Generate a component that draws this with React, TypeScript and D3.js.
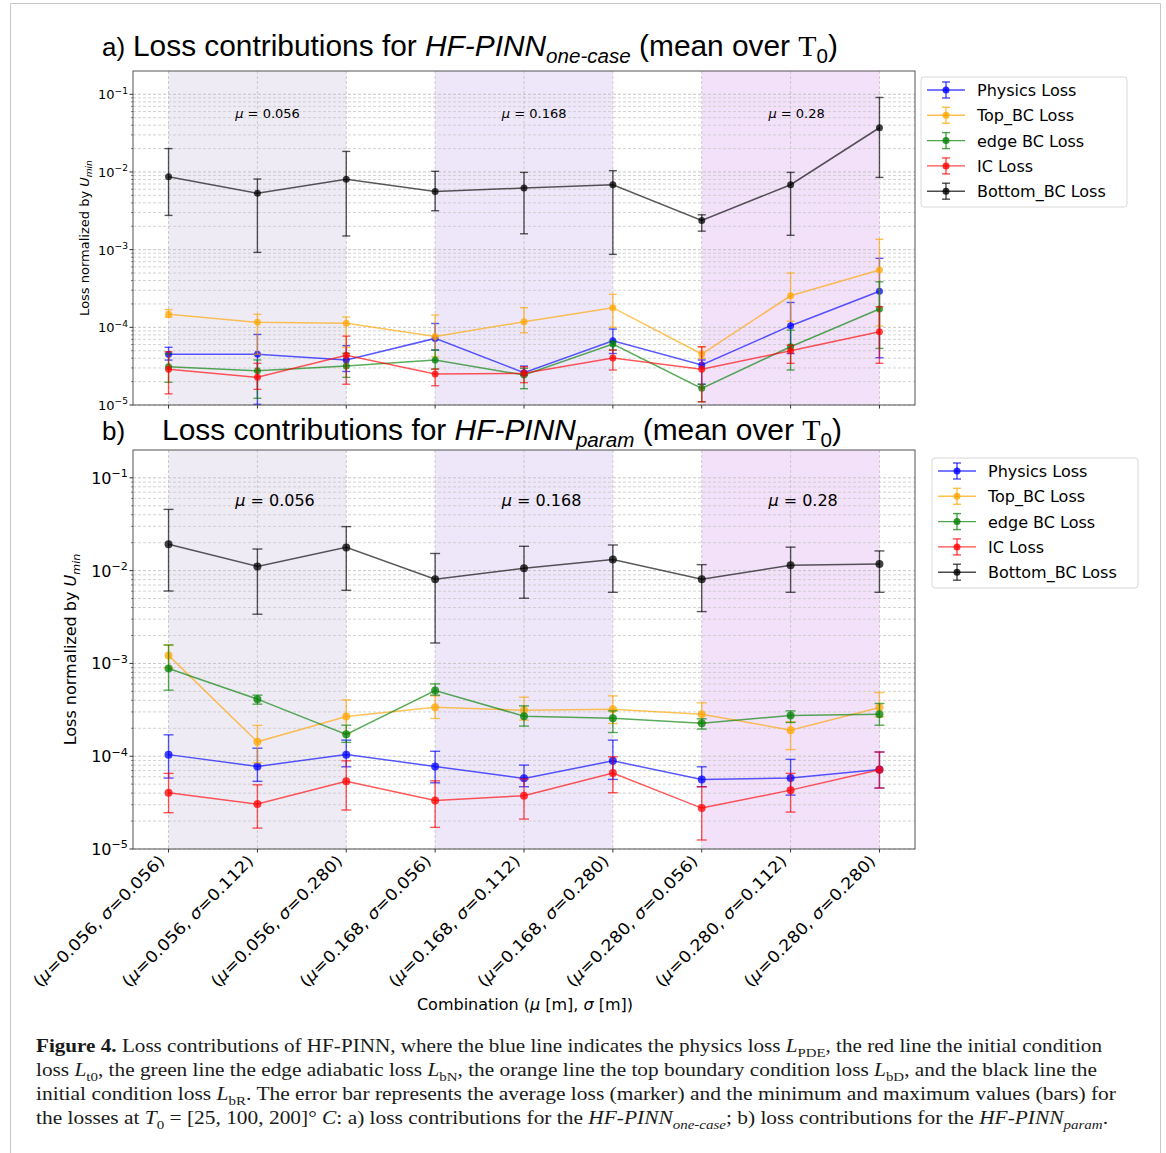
import React from 'react';
import * as d3 from 'd3';

// ---------- data ----------
const muLabels = ['0.056', '0.056', '0.056', '0.168', '0.168', '0.168', '0.280', '0.280', '0.280'];
const sigmaLabels = ['0.056', '0.112', '0.280', '0.056', '0.112', '0.280', '0.056', '0.112', '0.280'];
const groupMu = ['0.056', '0.168', '0.28'];
const groupStart = [0, 3, 6];
const groupEnd = [2, 5, 8];
const groupColors = ['#efebf5', '#eee7f9', '#f2e1f9'];

const seriesNames = ['Physics Loss', 'Top_BC Loss', 'edge BC Loss', 'IC Loss', 'Bottom_BC Loss'];
const seriesColors = ['#0000ff', '#ffa500', '#008000', '#ff0000', '#000000'];

// panel a) HF-PINN one-case
const physicsA = [4.49e-5, 4.49e-5, 3.79e-5, 7.2e-5, 2.61e-5, 6.7e-5, 3.27e-5, 1.05e-4, 2.91e-4];
const physicsALo = [3.79e-5, 1.02e-5, 2.7e-5, 5.1e-5, 2.4e-5, 4.6e-5, 1.85e-5, 4.6e-5, 4.06e-5];
const physicsAHi = [5.53e-5, 8.1e-5, 5.8e-5, 1.12e-4, 3.17e-5, 9.5e-5, 3.8e-5, 2.09e-4, 7.73e-4];

const topBCA = [1.47e-4, 1.16e-4, 1.13e-4, 7.6e-5, 1.18e-4, 1.79e-4, 4.53e-5, 2.55e-4, 5.46e-4];
const topBCALo = [1.35e-4, 4.5e-5, 5.5e-5, 4.2e-5, 8.5e-5, 1.0e-4, 4.0e-5, 1.2e-4, 1.04e-4];
const topBCAHi = [1.69e-4, 1.47e-4, 1.36e-4, 1.44e-4, 1.79e-4, 2.66e-4, 5.6e-5, 5.0e-4, 1.36e-3];

const edgeBCA = [3.11e-5, 2.76e-5, 3.17e-5, 3.79e-5, 2.43e-5, 6.1e-5, 1.64e-5, 5.62e-5, 1.72e-4];
const edgeBCALo = [1.96e-5, 1.22e-5, 2.27e-5, 2.9e-5, 1.62e-5, 5.1e-5, 1.1e-5, 2.82e-5, 5.35e-5];
const edgeBCAHi = [4.6e-5, 3.8e-5, 4.63e-5, 5.1e-5, 2.97e-5, 6.6e-5, 1.85e-5, 9.2e-5, 3.86e-4];

const icA = [2.88e-5, 2.27e-5, 4.36e-5, 2.5e-5, 2.56e-5, 4.02e-5, 2.88e-5, 5.0e-5, 8.78e-5];
const icALo = [1.39e-5, 1.59e-5, 1.85e-5, 1.77e-5, 1.94e-5, 2.82e-5, 1.1e-5, 3.44e-5, 3.44e-5];
const icAHi = [4.85e-5, 3.44e-5, 7.7e-5, 2.9e-5, 3.1e-5, 5.1e-5, 5.62e-5, 5.9e-5, 1.84e-4];

const bottomBCA = [8.67e-3, 5.31e-3, 8.04e-3, 5.62e-3, 6.21e-3, 6.85e-3, 2.38e-3, 6.85e-3, 3.71e-2];
const bottomBCALo = [2.76e-3, 9.23e-4, 1.5e-3, 3.17e-3, 1.6e-3, 8.69e-4, 1.73e-3, 1.53e-3, 8.51e-3];
const bottomBCAHi = [2.0e-2, 8.11e-3, 1.84e-2, 1.02e-2, 9.88e-3, 1.04e-2, 2.81e-3, 9.88e-3, 9.1e-2];

// panel b) HF-PINN param
const physicsB = [1.04e-4, 7.76e-5, 1.04e-4, 7.76e-5, 5.77e-5, 8.92e-5, 5.62e-5, 5.81e-5, 7.21e-5];
const physicsBLo = [5.81e-5, 5.36e-5, 7.69e-5, 5.17e-5, 4.69e-5, 5.62e-5, 4.69e-5, 3.81e-5, 4.54e-5];
const physicsBHi = [1.7e-4, 1.22e-4, 1.49e-4, 1.13e-4, 8.02e-5, 1.49e-4, 7.69e-5, 9.25e-5, 1.11e-4];

const topBCB = [1.22e-3, 1.43e-4, 2.68e-4, 3.38e-4, 3.13e-4, 3.21e-4, 2.84e-4, 1.91e-4, 3.35e-4];
const topBCBLo = [9.0e-4, 8.5e-5, 1.76e-4, 2.55e-4, 2.45e-4, 2.25e-4, 2.29e-4, 1.18e-4, 2.66e-4];
const topBCBHi = [1.58e-3, 2.15e-4, 4.05e-4, 4.47e-4, 4.33e-4, 4.47e-4, 3.76e-4, 2.35e-4, 4.86e-4];

const edgeBCB = [8.81e-4, 4.12e-4, 1.72e-4, 5.11e-4, 2.7e-4, 2.57e-4, 2.27e-4, 2.75e-4, 2.84e-4];
const edgeBCBLo = [5.15e-4, 3.64e-4, 1.41e-4, 4.55e-4, 2.11e-4, 1.8e-4, 1.96e-4, 2.31e-4, 2.16e-4];
const edgeBCBHi = [1.58e-3, 4.55e-4, 2.16e-4, 6.02e-4, 3.49e-4, 3.08e-4, 2.53e-4, 3.08e-4, 3.7e-4];

const icB = [4.04e-5, 3.05e-5, 5.36e-5, 3.34e-5, 3.75e-5, 6.58e-5, 2.76e-5, 4.31e-5, 7.14e-5];
const icBLo = [2.46e-5, 1.68e-5, 2.63e-5, 1.71e-5, 2.1e-5, 4.04e-5, 1.25e-5, 2.5e-5, 4.54e-5];
const icBHi = [6.53e-5, 4.92e-5, 8.92e-5, 5.43e-5, 5.7e-5, 9.86e-5, 4.69e-5, 6.53e-5, 1.11e-4];

const bottomBCB = [1.92e-2, 1.11e-2, 1.78e-2, 8.06e-3, 1.06e-2, 1.32e-2, 8.06e-3, 1.14e-2, 1.18e-2];
const bottomBCBLo = [6.03e-3, 3.39e-3, 6.14e-3, 1.66e-3, 5.04e-3, 5.84e-3, 3.62e-3, 5.84e-3, 5.84e-3];
const bottomBCBHi = [4.57e-2, 1.71e-2, 2.98e-2, 1.53e-2, 1.83e-2, 1.89e-2, 1.16e-2, 1.79e-2, 1.63e-2];

const decades = [-5, -4, -3, -2, -1];

const seriesA = [
  { mean: physicsA, lo: physicsALo, hi: physicsAHi },
  { mean: topBCA, lo: topBCALo, hi: topBCAHi },
  { mean: edgeBCA, lo: edgeBCALo, hi: edgeBCAHi },
  { mean: icA, lo: icALo, hi: icAHi },
  { mean: bottomBCA, lo: bottomBCALo, hi: bottomBCAHi },
];
const seriesB = [
  { mean: physicsB, lo: physicsBLo, hi: physicsBHi },
  { mean: topBCB, lo: topBCBLo, hi: topBCBHi },
  { mean: edgeBCB, lo: edgeBCBLo, hi: edgeBCBHi },
  { mean: icB, lo: icBLo, hi: icBHi },
  { mean: bottomBCB, lo: bottomBCBLo, hi: bottomBCBHi },
];

// ---------- layout ----------
const W = 1166;
const H = 1153;
const X_LEFT = 133;
const X_RIGHT = 915;
const FONT = 'DejaVu Sans, sans-serif';

type PanelProps = {
  top: number;
  bottom: number;
  series: { mean: number[]; lo: number[]; hi: number[] }[];
  fs: number;
  legFs: number;
  r: number;
  cap: number;
  legX: number;
  legY: number;
  ylabX: number;
  ylabFs: number;
  showX: boolean;
};

function Panel(p: PanelProps) {
  const x = d3.scaleLinear().domain([-0.4, 8.4]).range([X_LEFT, X_RIGHT]);
  const y = d3.scaleLog().domain([1e-5, Math.pow(10, -0.7)]).range([p.bottom, p.top]);
  const idx = d3.range(9);
  const minor: number[] = [];
  decades.forEach((e) => {
    for (let k = 2; k <= 9; k++) {
      const v = k * Math.pow(10, e);
      if (v < Math.pow(10, -0.7)) minor.push(v);
    }
  });
  const major = decades.map((e) => Math.pow(10, e));
  const lineGen = (vals: number[]) =>
    d3.line<number>().x((i) => x(i)).y((i) => y(vals[i]))(idx) || '';

  const legItems = seriesNames.map((n, k) => ({ n, c: seriesColors[k], yy: p.legY + 13 + k * 25.3 }));

  return (
    <g>
      {groupStart.map((s, g) => (
        <rect key={'g' + g} x={x(s)} y={p.top} width={x(groupEnd[g]) - x(s)} height={p.bottom - p.top} fill={groupColors[g]} />
      ))}
      {minor.map((v, k) => (
        <line key={'mi' + k} x1={X_LEFT} x2={X_RIGHT} y1={y(v)} y2={y(v)} stroke="#c8c8c8" strokeWidth={0.8} strokeDasharray="3,2" />
      ))}
      {major.map((v, k) => (
        <line key={'ma' + k} x1={X_LEFT} x2={X_RIGHT} y1={y(v)} y2={y(v)} stroke="#c0c0c0" strokeWidth={0.9} strokeDasharray="3,2" />
      ))}
      {idx.map((i) => (
        <line key={'vx' + i} x1={x(i)} x2={x(i)} y1={p.top} y2={p.bottom} stroke="#c0c0c0" strokeWidth={0.8} strokeDasharray="3,2" />
      ))}
      {groupStart.map((s, g) => (
        <text key={'mu' + g} x={x(s + 0.75)} y={y(0.056)} dominantBaseline="middle" fontFamily={FONT} fontSize={p.fs} fill="#000">
          <tspan fontStyle="italic">μ</tspan>
          <tspan> = {groupMu[g]}</tspan>
        </text>
      ))}
      {p.series.map((s, k) => (
        <g key={'s' + k} stroke={seriesColors[k]} fill={seriesColors[k]}>
          <path d={lineGen(s.mean)} fill="none" strokeWidth={1.5} strokeOpacity={0.65} />
          {idx.map((i) => (
            <g key={i} strokeOpacity={0.65} strokeWidth={1.4}>
              <line x1={x(i)} x2={x(i)} y1={y(s.lo[i])} y2={y(s.hi[i])} />
              <line x1={x(i) - p.cap} x2={x(i) + p.cap} y1={y(s.lo[i])} y2={y(s.lo[i])} />
              <line x1={x(i) - p.cap} x2={x(i) + p.cap} y1={y(s.hi[i])} y2={y(s.hi[i])} />
            </g>
          ))}
          {idx.map((i) => (
            <circle key={'c' + i} cx={x(i)} cy={y(s.mean[i])} r={p.r} stroke="none" fillOpacity={0.75} />
          ))}
        </g>
      ))}
      <rect x={X_LEFT} y={p.top} width={X_RIGHT - X_LEFT} height={p.bottom - p.top} fill="none" stroke="#555" strokeWidth={1} />
      {major.map((v, k) => (
        <g key={'yt' + k}>
          <line x1={X_LEFT - 3.5} x2={X_LEFT} y1={y(v)} y2={y(v)} stroke="#333" />
          <text x={X_LEFT - 5} y={y(v) + p.fs * 0.38} textAnchor="end" fontFamily={FONT} fontSize={p.fs} fill="#000">
            10<tspan dy={-p.fs * 0.42} fontSize={p.fs * 0.7}>{'−' + String(-decades[k])}</tspan>
          </text>
        </g>
      ))}
      {minor.map((v, k) => (
        <line key={'ymt' + k} x1={X_LEFT - 2} x2={X_LEFT} y1={y(v)} y2={y(v)} stroke="#333" strokeWidth={0.6} />
      ))}
      {idx.map((i) => (
        <line key={'xt' + i} x1={x(i)} x2={x(i)} y1={p.bottom} y2={p.bottom + 3.5} stroke="#333" />
      ))}
      <text
        transform={`translate(${p.ylabX},${(p.top + p.bottom) / 2}) rotate(-90)`}
        textAnchor="middle"
        fontFamily={FONT}
        fontSize={p.ylabFs}
        fill="#000"
      >
        Loss normalized by <tspan fontStyle="italic">U</tspan>
        <tspan fontStyle="italic" fontSize={p.ylabFs * 0.7} dy={p.ylabFs * 0.25}>min</tspan>
      </text>
      {p.showX &&
        idx.map((i) => (
          <text
            key={'xl' + i}
            transform={`translate(${x(i) - 3},${p.bottom + 13}) rotate(-45)`}
            textAnchor="end"
            fontFamily={FONT}
            fontSize={16}
            textLength={178}
            lengthAdjust="spacingAndGlyphs"
            fill="#000"
          >
            (<tspan fontStyle="italic">μ</tspan>={muLabels[i]}, <tspan fontStyle="italic">σ</tspan>={sigmaLabels[i]})
          </text>
        ))}
      <rect x={p.legX} y={p.legY} width={206} height={130} rx={3} fill="#fff" fillOpacity={0.85} stroke="#d8d8d8" />
      {legItems.map((it, k) => (
        <g key={'lg' + k}>
          <g stroke={it.c} strokeOpacity={0.7} strokeWidth={1.4}>
            <line x1={p.legX + 6} x2={p.legX + 44} y1={it.yy} y2={it.yy} />
            <line x1={p.legX + 25} x2={p.legX + 25} y1={it.yy - 8} y2={it.yy + 8} />
            <line x1={p.legX + 21} x2={p.legX + 29} y1={it.yy - 8} y2={it.yy - 8} />
            <line x1={p.legX + 21} x2={p.legX + 29} y1={it.yy + 8} y2={it.yy + 8} />
          </g>
          <circle cx={p.legX + 25} cy={it.yy} r={3.5} fill={it.c} fillOpacity={0.8} />
          <text x={p.legX + 56} y={it.yy + 6} fontFamily={FONT} fontSize={p.legFs} fill="#000">
            {it.n}
          </text>
        </g>
      ))}
    </g>
  );
}

const TITLE_FONT = 'Liberation Sans, Arial, sans-serif';
const SERIF = 'Liberation Serif, Times New Roman, serif';

function Caption() {
  const fs = 19;
  const x0 = 36;
  const y0 = 1052;
  const lh = 24;
  const sb = 5;
  const sub = (t: string, after: string, italic = false) => (
    <>
      <tspan dy={sb} fontSize={fs * 0.7} fontStyle={italic ? 'italic' : 'normal'}>{t}</tspan>
      <tspan dy={-sb}>{after}</tspan>
    </>
  );
  return (
    <g fontFamily={SERIF} fontSize={fs} fill="#1a1a1a">
      <text x={x0} y={y0} textLength={1066} lengthAdjust="spacingAndGlyphs">
        <tspan fontWeight="bold">Figure 4.</tspan> Loss contributions of HF-PINN, where the blue line indicates the physics loss{' '}
        <tspan fontStyle="italic">L</tspan>
        {sub('PDE', ', the red line the initial condition')}
      </text>
      <text x={x0} y={y0 + lh} textLength={1061} lengthAdjust="spacingAndGlyphs">
        loss <tspan fontStyle="italic">L</tspan>
        {sub('t0', ', the green line the edge adiabatic loss ')}
        <tspan fontStyle="italic">L</tspan>
        {sub('bN', ', the orange line the top boundary condition loss ')}
        <tspan fontStyle="italic">L</tspan>
        {sub('bD', ', and the black line the')}
      </text>
      <text x={x0} y={y0 + 2 * lh} textLength={1080} lengthAdjust="spacingAndGlyphs">
        initial condition loss <tspan fontStyle="italic">L</tspan>
        {sub('bR', '. The error bar represents the average loss (marker) and the minimum and maximum values (bars) for')}
      </text>
      <text x={x0} y={y0 + 3 * lh} textLength={1072} lengthAdjust="spacingAndGlyphs">
        the losses at <tspan fontStyle="italic">T</tspan>
        {sub('0', ' = [25, 100, 200]° ')}
        <tspan fontStyle="italic">C</tspan>: a) loss contributions for the <tspan fontStyle="italic">HF-PINN</tspan>
        {sub('one-case', '; b) loss contributions for the ', true)}
        <tspan fontStyle="italic">HF-PINN</tspan>
        {sub('param', '.', true)}
      </text>
    </g>
  );
}

export default function App() {
  return (
    <svg width={W} height={H} style={{ position: 'absolute', left: 0, top: 0, background: '#fff' }}>
      <rect x={0} y={0} width={W} height={H} fill="#fff" />
      <path d={`M10.5,${H} V3.5 H1160.5 V${H}`} fill="none" stroke="#c8c8c8" strokeWidth={1} />

      <text x={102} y={56} fontFamily={TITLE_FONT} fontSize={26} fill="#000">a)</text>
      <text x={133} y={56} fontFamily={TITLE_FONT} fontSize={29} fill="#000" textLength={705} lengthAdjust="spacingAndGlyphs">
        Loss contributions for <tspan fontStyle="italic">HF-PINN</tspan>
        <tspan fontStyle="italic" fontSize={20} dy={7}>one-case</tspan>
        <tspan dy={-7}> (mean over </tspan>
        <tspan fontFamily={SERIF}>T</tspan>
        <tspan fontSize={20} dy={7}>0</tspan>
        <tspan dy={-7}>)</tspan>
      </text>

      <Panel top={71} bottom={405} series={seriesA} fs={13} legFs={16} r={3.5} cap={4} legX={921} legY={77} ylabX={89} ylabFs={13} showX={false} />

      <text x={102} y={440} fontFamily={TITLE_FONT} fontSize={26} fill="#000">b)</text>
      <text x={162} y={440} fontFamily={TITLE_FONT} fontSize={29} fill="#000" textLength={680} lengthAdjust="spacingAndGlyphs">
        Loss contributions for <tspan fontStyle="italic">HF-PINN</tspan>
        <tspan fontStyle="italic" fontSize={20} dy={7}>param</tspan>
        <tspan dy={-7}> (mean over </tspan>
        <tspan fontFamily={SERIF}>T</tspan>
        <tspan fontSize={20} dy={7}>0</tspan>
        <tspan dy={-7}>)</tspan>
      </text>

      <Panel top={450} bottom={849} series={seriesB} fs={16} legFs={16} r={4} cap={5} legX={932} legY={458} ylabX={76} ylabFs={16} showX={true} />

      <text x={525} y={1010} textAnchor="middle" fontFamily={FONT} fontSize={16} fill="#000">
        Combination (<tspan fontStyle="italic">μ</tspan> [m], <tspan fontStyle="italic">σ</tspan> [m])
      </text>

      <Caption />
    </svg>
  );
}
